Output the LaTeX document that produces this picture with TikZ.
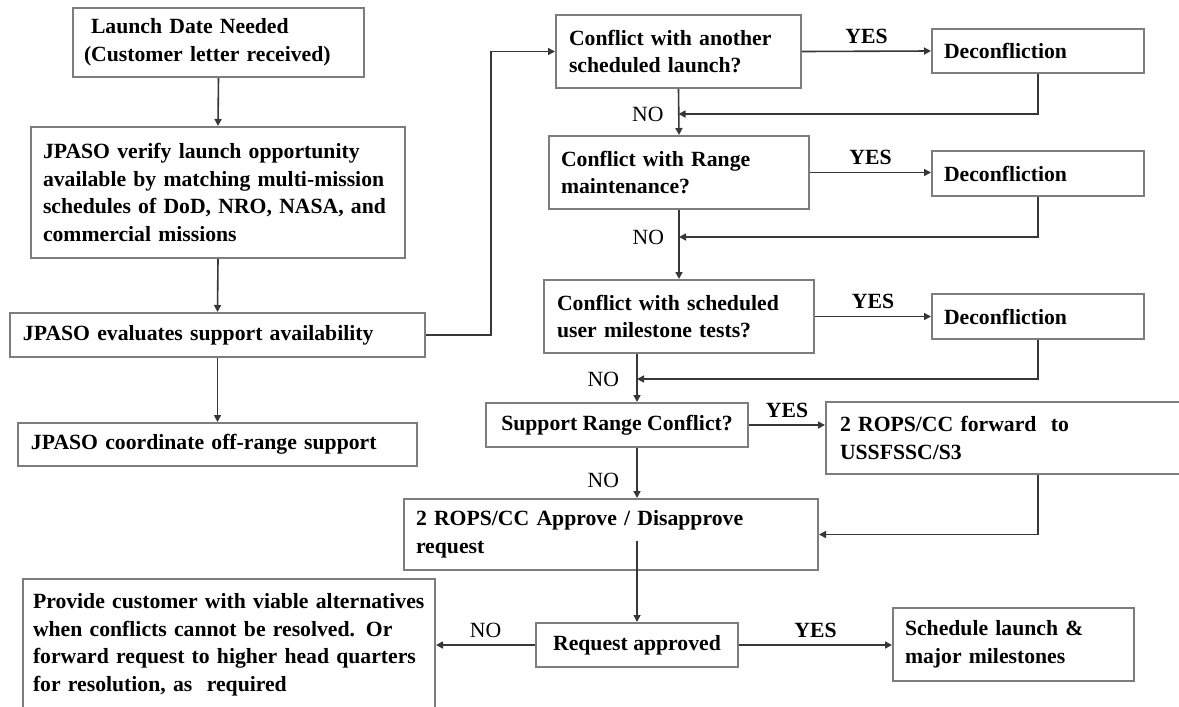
\documentclass[tikz,border=0pt]{standalone}
\usepackage{fontspec}
\setmainfont{Liberation Serif}
\usepackage{tikz}
\usetikzlibrary{positioning,arrows.meta,calc}
\definecolor{boxborder}{RGB}{125,125,125}
\definecolor{flowline}{RGB}{55,55,55}

\begin{document}
\begin{tikzpicture}[
                x=0.5pt, y=-0.5pt,
                font=\fontsize{10.85}{13.75}\selectfont,
                >={Triangle[length=3.5pt,width=3.5pt]},
                stepbox/.style={rectangle, draw=boxborder, line width=1pt, anchor=north west, align=left, inner ysep=2pt, font=\fontsize{10.85}{13.75}\selectfont\bfseries},
                midbox/.style={stepbox, align=center, inner xsep=0pt},
                yeslbl/.style={font=\fontsize{10.85}{13.75}\selectfont\bfseries},
                nolbl/.style={font=\fontsize{10.85}{13.75}\selectfont},
                arrow/.style={->, line width=0.8pt, draw=flowline}
                ]
                \clip (0,0) rectangle (1179,707);
                \fill[white] (0,0) rectangle (1179,707);

                % left column
                \node[stepbox, minimum width=145.5pt, minimum height=34.5pt, inner xsep=5.5pt, text width=134.5pt] (launch) at (72,7) {\hspace*{3.5pt}Launch Date Needed\\(Customer letter received)};
                \node[stepbox, minimum width=187pt, minimum height=65.5pt, inner xsep=6pt, text width=175pt] (verify) at (30,126) {JPASO verify launch opportunity\\available by matching multi-mission\\schedules of DoD, NRO, NASA, and\\commercial missions};
                \node[stepbox, minimum width=207.5pt, minimum height=22pt, inner xsep=6.5pt, text width=194.5pt] (eval) at (9,312) {JPASO evaluates support availability};
                \node[stepbox, minimum width=199.5pt, minimum height=21.5pt, inner xsep=6.5pt, text width=186.5pt] (offrange) at (17,422) {JPASO coordinate off-range support};

                % conflict checks
                \node[stepbox, minimum width=122.5pt, minimum height=36.5pt, inner xsep=6.5pt, text width=109.5pt] (c1) at (555,14) {Conflict with another\\scheduled launch?};
                \node[stepbox, minimum width=130pt, minimum height=36.5pt, inner xsep=6pt, text width=118pt] (c2) at (548,135) {Conflict with Range\\maintenance?};
                \node[stepbox, minimum width=135pt, minimum height=36.5pt, inner xsep=6.5pt, text width=122pt] (c3) at (543,279) {Conflict with scheduled\\user milestone tests?};
                \node[midbox, minimum width=131pt, minimum height=22pt] (sup) at (485,402) {Support Range Conflict?};

                \node[stepbox, minimum width=106pt, minimum height=22pt, inner xsep=6pt, text width=94pt] (d1) at (931,28) {Deconfliction};
                \node[stepbox, minimum width=106pt, minimum height=22.5pt, inner xsep=6pt, text width=94pt] (d2) at (931,150) {Deconfliction};
                \node[stepbox, minimum width=106pt, minimum height=22.5pt, inner xsep=6pt, text width=94pt] (d3) at (931,293) {Deconfliction};
                \node[stepbox, minimum width=180pt, minimum height=36pt, inner xsep=7pt, text width=166pt] (fwd) at (825,401) {2 ROPS/CC forward\ \ to\\USSFSSC/S3};

                % approval
                \node[stepbox, minimum width=207pt, minimum height=35.5pt, inner xsep=6pt, text width=195pt] (ap) at (403,498) {2 ROPS/CC Approve / Disapprove\\request};
                \node[midbox, minimum width=101pt, minimum height=22pt] (rq) at (535,622) {Request approved};
                \node[stepbox, minimum width=206pt, minimum height=66pt, inner xsep=5pt, text width=196pt] (pv) at (22,578) {Provide customer with viable alternatives\\when conflicts cannot be resolved.  Or\\forward request to higher head quarters\\for resolution, as\ \ required};
                \node[stepbox, minimum width=120.5pt, minimum height=36.5pt, inner xsep=6pt, text width=108.5pt] (sc) at (892,607) {Schedule launch \&\\major milestones};

                % junctions on the main line
                \coordinate (j1) at ([yshift=-12.5pt]c1.south);
                \coordinate (j2) at ([yshift=-13.5pt]c2.south);
                \coordinate (c3out) at (rq.north |- c3.south);
                \coordinate (j3) at ([yshift=-12.5pt]c3out);
                \coordinate (apout) at ([yshift=15pt]rq.north |- ap.south);

                \draw[arrow] (launch.south) -- (verify.north);
                \draw[arrow] (verify.south) -- (eval.north);
                \draw[arrow] (eval.south) -- (offrange.north);
                \draw[arrow] (eval.east) -- ++(65,0) |- (c1.west);

                \draw[arrow] (c1.east) -- node[yeslbl, above] {YES} (d1.west);
                \draw[arrow] (c2.east) -- node[yeslbl, above] {YES} (c2.east -| d2.west);
                \draw[arrow] (c3.east) -- node[yeslbl, above] {YES} (c3.east -| d3.west);
                \draw[arrow] (sup.east) -- node[yeslbl, above] {YES} (sup.east -| fwd.west);

                \draw[arrow] (c1.south) -- (c2.north);
                \draw[arrow] (c2.south) -- (c3.north);
                \draw[arrow] (c3out) -- (rq.north |- sup.north);
                \draw[arrow] (rq.north |- sup.south) -- (rq.north |- ap.north);
                \draw[arrow] (apout) -- (rq.north);

                \draw[arrow] (d1.south) |- (j1);
                \draw[arrow] (d2.south) |- (j2);
                \draw[arrow] (d3.south) |- (j3);
                \draw[arrow] (fwd.south -| d3.south) |- (ap.east);

                \node[nolbl, left=4pt of j1] {NO};
                \node[nolbl, left=4pt of j2] {NO};
                \node[nolbl, left=5.5pt of j3] {NO};
                \node[nolbl, left=5.5pt] at ([yshift=-16pt]rq.north |- sup.south) {NO};

                \draw[arrow] (rq.west) -- node[nolbl, above] {NO} (rq.west -| pv.east);
                \draw[arrow] (rq.east) -- node[yeslbl, above] {YES} (rq.east -| sc.west);
            \end{tikzpicture}
\end{document}
